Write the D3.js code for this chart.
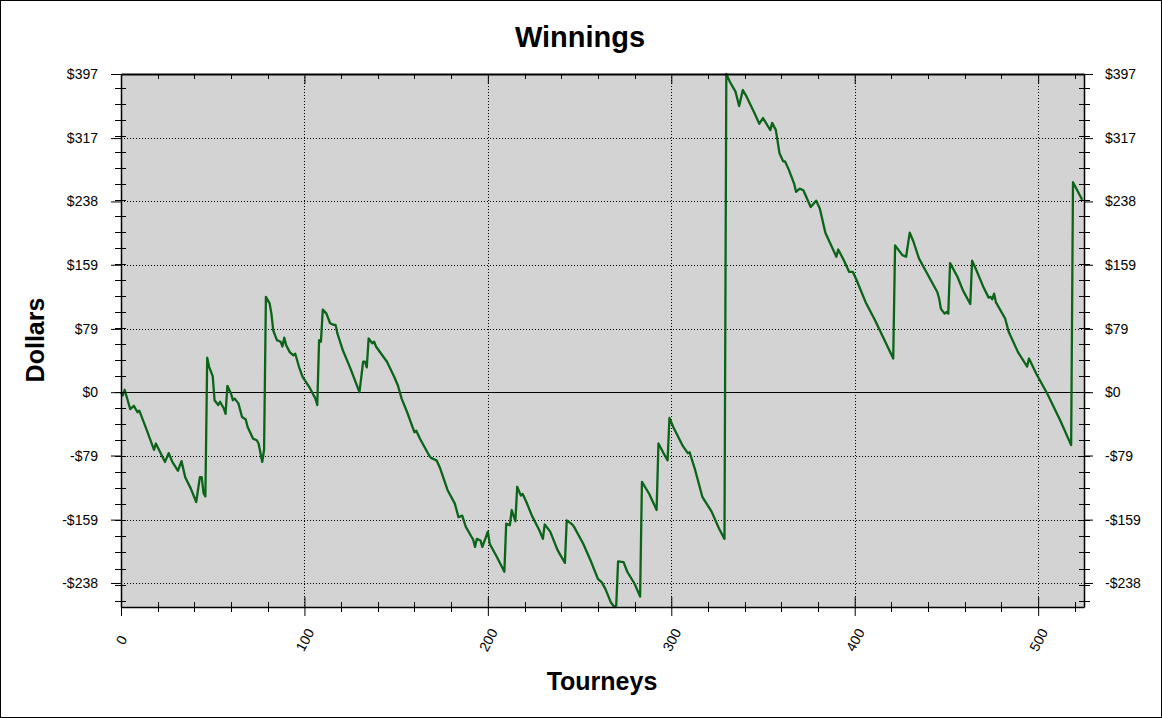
<!DOCTYPE html>
<html>
<head>
<meta charset="utf-8">
<script src="https://cdn.jsdelivr.net/npm/d3@7"></script>
<style>
  html, body { margin: 0; padding: 0; background: #fff; }
  svg { display: block; font-family: Arial, "Liberation Sans", sans-serif; }
</style>
</head>
<body>
<svg id="chart" width="1162" height="718"></svg>
<script>
// ---- data ----
const tourneys = [0,1,2,5,7,9,10,14,18,19,24,26,28,31,33,35,38,41,43,44,45,46,
  47,48,50,51,53,54,56,57,58,60,61,62,64,66,68,69,72,74,75,77,78,
  79,81,82,83,85,87,88,89,90,92,94,95,97,99,103,106,107,
  108,109,110,112,114,116,117,118,121,125,130,132,133,134,135,137,138,139,145,149,151,153,156,160,161,163,168,169,172,174,178,182,184,186,188,191,192,193,194,196,197,200,201,205,209,
  210,212,213,215,216,218,219,221,224,228,230,231,234,238,242,243,246,247,252,256,260,262,264,267,269,270,
  271,274,276,280,283,284,288,292,293,296,298,299,301,306,309,310,313,317,322,326,329,
  330,332,335,337,339,341,345,348,350,354,355,357,359,361,362,364,367,368,370,372,376,379,381,384,390,391,394,397,399,401,406,411,416,421,
  422,426,428,430,432,435,440,445,446,447,449,450,451,452,456,459,463,464,466,470,473,474,475,476,477,482,484,489,494,495,499,505,512,518,519,524];
const winnings = [0,-4,3,-21,-17,-25,-23,-47,-72,-64,-87,-76,-87,-98,-86,-106,-120,-137,-106,-106,-126,-130,
  43,32,20,-10,-16,-12,-20,-27,8,-2,-10,-8,-14,-31,-34,-43,-58,-60,-64,-87,-72,
  119,111,98,77,65,63,57,68,59,50,46,48,32,19,5,-8,-16,
  65,63,103,98,86,84,84,73,52,30,0,38,38,31,67,61,63,57,38,19,8,-8,-25,-50,-48,-58,-79,-82,-85,-95,-122,-139,-156,-154,-168,-180,-184,-193,-183,-185,-193,-174,-189,-206,-224,
  -164,-166,-147,-161,-118,-129,-127,-137,-154,-172,-183,-165,-174,-197,-213,-160,-165,-168,-189,-210,-233,-237,-245,-262,-268,-266,
  -211,-212,-224,-239,-255,-112,-127,-147,-64,-77,-85,-32,-43,-66,-76,-75,-97,-131,-149,-170,-183,
  397,387,375,357,377,369,350,335,342,327,336,327,298,288,288,278,260,250,254,252,231,239,229,199,169,178,165,150,150,140,112,90,66,42,
  183,171,169,199,188,167,146,125,117,104,98,100,98,161,144,127,110,164,154,132,118,119,116,123,112,92,75,50,32,42,23,-2,-35,-66,262,240];
const yTickValues = [-238,-159,-79,0,79,159,238,317,397];
const yTickLabels = ["-$238","-$159","-$79","$0","$79","$159","$238","$317","$397"];
const xTickValues = [0,100,200,300,400,500];
const xTickLabels = ["0","100","200","300","400","500"];
const xMinorValues = d3.range(20, 525, 20).filter(d => d % 100 !== 0);
const yMinorValues = d3.range(-260, 398, 20);
const titleText = "Winnings";
const xTitle = "Tourneys";
const yTitle = "Dollars";

// ---- layout ----
const svg = d3.select("#chart");
const W = 1162, H = 718;
const L = 121, R = 1084, T = 74, B = 607;
const x = d3.scaleLinear().domain([0, 525]).range([L, R]);
const y = d3.scaleLinear().domain([-268, 397]).range([B, T]);

svg.append("rect").attr("x", 0.5).attr("y", 0.5).attr("width", W - 1).attr("height", H - 1)
  .attr("fill", "#fff").attr("stroke", "#000").attr("stroke-width", 1);

svg.append("rect").attr("x", L).attr("y", T).attr("width", R - L).attr("height", B - T)
  .attr("fill", "#d3d3d3");

// grid
const grid = svg.append("g");
grid.selectAll("line.gy").data(yTickValues.filter(d => d !== 0)).join("line")
  .attr("x1", L).attr("x2", R)
  .attr("y1", d => Math.round(y(d)) + 0.5).attr("y2", d => Math.round(y(d)) + 0.5)
  .attr("stroke", "#000").attr("stroke-width", 1).attr("stroke-dasharray", "1,2");
grid.selectAll("line.gx").data(xTickValues.filter(d => d !== 0)).join("line")
  .attr("y1", T).attr("y2", B)
  .attr("x1", d => Math.round(x(d)) + 0.5).attr("x2", d => Math.round(x(d)) + 0.5)
  .attr("stroke", "#000").attr("stroke-width", 1).attr("stroke-dasharray", "1,2");
grid.append("line").attr("x1", L).attr("x2", R)
  .attr("y1", Math.round(y(0)) + 0.5).attr("y2", Math.round(y(0)) + 0.5)
  .attr("stroke", "#000").attr("stroke-width", 1);

// line
const line = d3.line().x((d, i) => x(tourneys[i])).y(d => y(d));
svg.append("path").datum(winnings).attr("d", line)
  .attr("fill", "none").attr("stroke", "#0b6418").attr("stroke-width", 2.3)
  .attr("stroke-linejoin", "round");

// axes
const fmtY = (d) => yTickLabels[yTickValues.indexOf(d)];
const fmtX = (d) => xTickLabels[xTickValues.indexOf(d)];

const gl = svg.append("g").attr("transform", `translate(${L},0)`)
  .call(d3.axisLeft(y).tickValues(yTickValues).tickFormat(fmtY).tickSize(10).tickPadding(13).tickSizeOuter(0));
const gr = svg.append("g").attr("transform", `translate(${R},0)`)
  .call(d3.axisRight(y).tickValues(yTickValues).tickFormat(fmtY).tickSize(9).tickPadding(12).tickSizeOuter(0));
const gb = svg.append("g").attr("transform", `translate(0,${B})`)
  .call(d3.axisBottom(x).tickValues(xTickValues).tickFormat(fmtX).tickSize(9).tickPadding(0).tickSizeOuter(0));
const gt = svg.append("g").attr("transform", `translate(0,${T})`)
  .call(d3.axisTop(x).tickValues(xTickValues).tickFormat("").tickSize(-10).tickSizeOuter(0));

[gl, gr, gb, gt].forEach(g => {
  g.selectAll(".domain").attr("stroke", "#000").attr("stroke-width", 1.5);
  g.selectAll(".tick line").attr("stroke", "#000");
  g.selectAll("text").attr("font-size", 14).attr("fill", "#000")
    .attr("font-family", "Arial, 'Liberation Sans', sans-serif");
});
gt.select(".domain").attr("stroke-width", 2);

// bottom major ticks also cross inside
gb.selectAll(".tick line").attr("y1", -10).attr("y2", 9);
gb.selectAll(".tick").filter(d => d === 0).select("line").attr("y1", 0);
// rotated x labels
gb.selectAll(".tick text")
  .attr("text-anchor", "middle")
  .attr("dy", "0.35em")
  .attr("transform", "translate(0,33) rotate(-62)")
  .attr("y", 0);

// minor ticks
const minor = svg.append("g").attr("stroke", "#000").attr("stroke-width", 1);
minor.selectAll("line.ml").data(yMinorValues).join("line")
  .attr("x1", L - 6).attr("x2", L + 5)
  .attr("y1", d => Math.round(y(d)) + 0.5).attr("y2", d => Math.round(y(d)) + 0.5);
minor.selectAll("line.mr").data(yMinorValues).join("line")
  .attr("x1", R - 5).attr("x2", R + 6)
  .attr("y1", d => Math.round(y(d)) + 0.5).attr("y2", d => Math.round(y(d)) + 0.5);
minor.selectAll("line.mb").data(xMinorValues).join("line")
  .attr("y1", B - 5).attr("y2", B + 5)
  .attr("x1", d => Math.round(x(d)) + 0.5).attr("x2", d => Math.round(x(d)) + 0.5);
minor.selectAll("line.mt").data(xMinorValues).join("line")
  .attr("y1", T).attr("y2", T + 5)
  .attr("x1", d => Math.round(x(d)) + 0.5).attr("x2", d => Math.round(x(d)) + 0.5);

// titles
svg.append("text").attr("x", 580).attr("y", 47).attr("text-anchor", "middle")
  .attr("font-size", 29).attr("font-weight", "bold").text(titleText);
svg.append("text").attr("x", 602).attr("y", 690).attr("text-anchor", "middle")
  .attr("font-size", 25).attr("font-weight", "bold").text(xTitle);
svg.append("text").attr("transform", "translate(44,340) rotate(-90)").attr("text-anchor", "middle")
  .attr("font-size", 25).attr("font-weight", "bold").text(yTitle);
</script>
</body>
</html>
